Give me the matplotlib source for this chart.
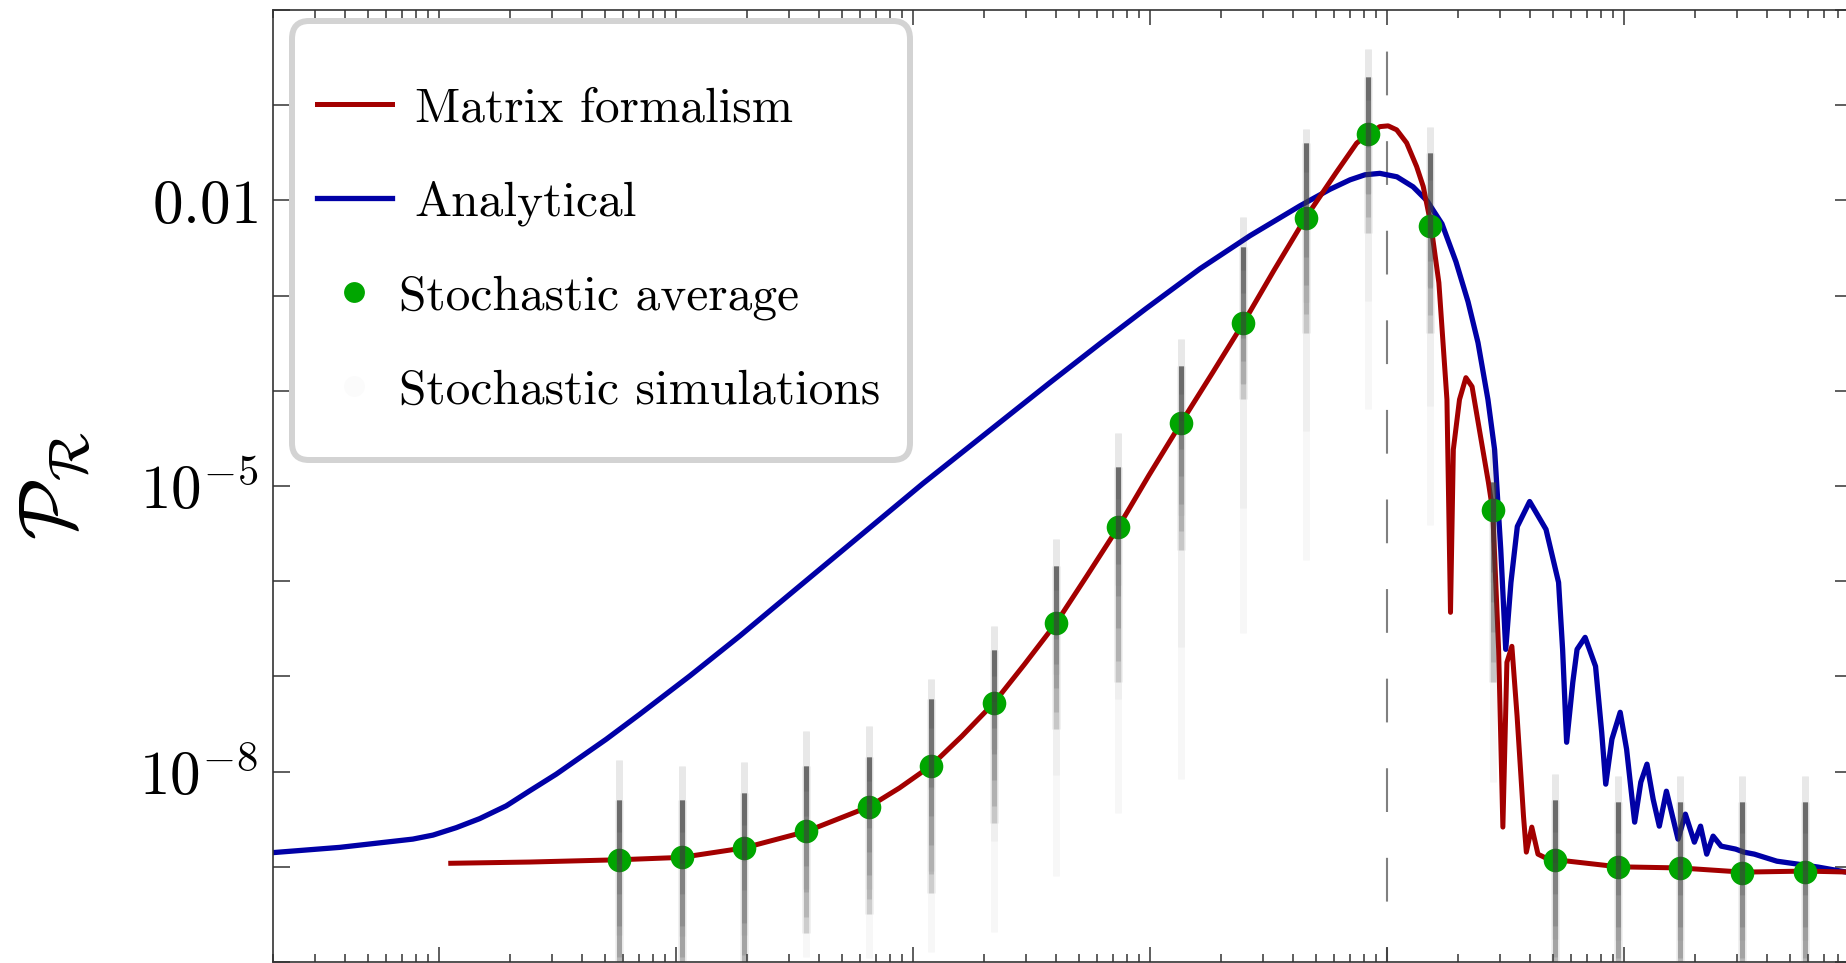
import numpy as np
import matplotlib
matplotlib.use('Agg')
import matplotlib.pyplot as plt
from matplotlib.lines import Line2D
from matplotlib.legend_handler import HandlerLine2D
from matplotlib.ticker import FixedLocator, FixedFormatter, LogLocator, NullLocator, NullFormatter

plt.rcParams['mathtext.fontset'] = 'cm'

# ---------------- data (log10 values) ----------------
# Matrix formalism
log_k_matrix = np.array([-3.950, -3.617, -3.239, -2.976, -2.713, -2.450, -2.186, -2.057, -1.923, -1.794,
                         -1.660, -1.530, -1.397, -1.267, -1.133, -1.004, -0.870, -0.736, -0.607, -0.477,
                         -0.343, -0.215, -0.128, -0.079, -0.030, 0.005, 0.041, 0.083, 0.125, 0.153,
                         0.184, 0.219, 0.253, 0.268, 0.280, 0.306, 0.333, 0.359, 0.392, 0.428,
                         0.446, 0.471, 0.489, 0.506, 0.527, 0.549, 0.576, 0.588, 0.611, 0.637,
                         0.671, 0.709, 0.975, 1.236, 1.502, 1.764, 1.962])
log_P_matrix = np.array([-8.963, -8.950, -8.926, -8.901, -8.802, -8.629, -8.370, -8.172, -7.937, -7.629,
                         -7.283, -6.875, -6.443, -5.948, -5.430, -4.886, -4.342, -3.811, -3.292, -2.736,
                         -2.181, -1.710, -1.399, -1.304, -1.225, -1.217, -1.259, -1.396, -1.644, -1.854,
                         -2.235, -2.865, -4.092, -6.327, -4.617, -4.092, -3.862, -3.956, -4.439, -4.963,
                         -5.257, -6.716, -8.583, -6.852, -6.684, -7.419, -8.468, -8.846, -8.583, -8.867,
                         -8.909, -8.925, -9.000, -9.012, -9.056, -9.045, -9.056])

# Analytical
log_k_analytical = np.array([-4.700, -4.419, -4.110, -4.025, -3.927, -3.828, -3.716, -3.617, -3.505, -3.294,
                             -3.153, -2.942, -2.731, -2.591, -1.958, -1.422, -1.211, -1.017, -0.789, -0.578,
                             -0.367, -0.241, -0.156, -0.093, -0.030, 0.042, 0.110, 0.169, 0.232, 0.291,
                             0.342, 0.384, 0.426, 0.454, 0.480, 0.501, 0.523, 0.550, 0.602,
                             0.671, 0.724, 0.741, 0.758, 0.784, 0.802, 0.836, 0.880, 0.906, 0.923,
                             0.949, 0.984, 1.011, 1.045, 1.071, 1.097, 1.123, 1.149, 1.179, 1.228,
                             1.259, 1.297, 1.323, 1.349, 1.376, 1.410, 1.471, 1.506, 1.550, 1.645,
                             1.733, 1.819, 1.962])
log_P_analytical = np.array([-8.851, -8.796, -8.709, -8.667, -8.589, -8.494, -8.360, -8.202, -8.027, -7.660,
                             -7.398, -6.996, -6.576, -6.285, -4.974, -3.914, -3.505, -3.137, -2.718, -2.371,
                             -2.057, -1.884, -1.784, -1.731, -1.716, -1.752, -1.857, -2.004, -2.246, -2.644,
                             -3.064, -3.494, -4.092, -4.617, -5.666, -6.716, -6.013, -5.425, -5.163,
                             -5.456, -6.013, -6.716, -7.692, -7.062, -6.716, -6.590, -6.894, -7.587, -8.132,
                             -7.660, -7.377, -7.765, -8.531, -8.111, -7.922, -8.290, -8.573, -8.206, -8.709,
                             -8.447, -8.741, -8.573, -8.867, -8.678, -8.783, -8.814, -8.846, -8.867, -8.941,
                             -8.972, -9.003, -9.066])

# Stochastic average
log_k_stoch = np.array([-3.239, -2.976, -2.713, -2.450, -2.186, -1.923, -1.660, -1.397, -1.133, -0.870,
                        -0.607, -0.343, -0.080, 0.183, 0.446, 0.710, 0.973, 1.236, 1.500, 1.763])
log_P_stoch = np.array([-8.925, -8.901, -8.802, -8.629, -8.369, -7.937, -7.282, -6.443, -5.429, -4.342,
                        -3.292, -2.181, -1.303, -2.267, -5.257, -8.925, -9.000, -9.012, -9.062, -9.050])

# Spread of the individual stochastic realisations at each k
log_sim_top = np.array([-7.88, -7.94, -7.90, -7.57, -7.52, -7.03, -6.47, -5.56, -4.44, -3.46,
                        -2.17, -1.25, -0.41, -1.23, -4.61, -8.03, -8.05, -8.05, -8.05, -8.05])
log_sim_core_top = np.array([-8.30, -8.30, -8.22, -7.94, -7.85, -7.24, -6.72, -5.84, -4.80, -3.74,
                             -2.49, -1.40, -0.70, -1.50, -4.96, -8.30, -8.32, -8.32, -8.32, -8.32])
log_sim_core_bottom = np.array([-10.5, -10.5, -10.5, -9.70, -9.50, -9.28, -8.54, -7.55, -7.06, -5.67,
                                -4.09, -3.39, -2.34, -3.39, -7.06, -10.5, -10.5, -10.5, -10.5, -10.5])
log_sim_tail_bottom = np.array([-10.5, -10.5, -10.5, -9.95, -9.96, -9.90, -9.69, -9.10, -8.43, -8.08,
                                -6.54, -5.78, -4.19, -5.41, -8.11, -10.5, -10.5, -10.5, -10.5, -10.5])

k_peak = 1.0

y_tick_values = 10.0 ** np.arange(-10, 1)
y_tick_text = {-8: r'$10^{-8}$', -5: r'$10^{-5}$', -2: r'$0.01$'}

red = '#a30000'
blue = '#0000a6'
green = '#00a600'


class LoweredLine2D(HandlerLine2D):
    # tall legend rows push the handle up; bring it back to the text centre
    def create_artists(self, legend, orig_handle, xdescent, ydescent, width, height, fontsize, trans):
        artists = super().create_artists(legend, orig_handle, xdescent, ydescent, width, height, fontsize, trans)
        for a in artists:
            a.set_ydata(np.asarray(a.get_ydata()) - 0.28 * fontsize)
        return artists


# ---------------- figure ----------------
fig = plt.figure(figsize=(18.46, 9.63), dpi=100)
ax = fig.add_axes([273 / 1846, 1 / 963, 1579 / 1846, 952 / 963])
ax.set_xscale('log')
ax.set_yscale('log')

ax.plot(10 ** log_k_matrix, 10 ** log_P_matrix, color=red, lw=3.6, zorder=3)
ax.plot(10 ** log_k_analytical, 10 ** log_P_analytical, color=blue, lw=3.8, zorder=2)
ax.axvline(k_peak, color='#808080', lw=1.5, ls=(14, (21, 22)), zorder=1)
ax.plot(10 ** log_k_stoch, 10 ** log_P_stoch, ls='', marker='o', ms=17, color=green, mec='none', zorder=4)

# clouds of realisations: faint tail, then a core that fades downwards
k_sim = 10 ** log_k_stoch
for frac in (0.4, 0.7, 1.0):
    bottom = log_sim_top + frac * (log_sim_tail_bottom - log_sim_top)
    ax.vlines(k_sim, 10 ** log_sim_top, 10 ** bottom, color='0.3', alpha=0.045, lw=5, zorder=5)
ax.vlines(k_sim, 10 ** log_sim_core_top, 10 ** log_sim_core_bottom, color='0.3', alpha=0.08, lw=6.5, zorder=5)
for frac in (0.15, 0.3, 0.45, 0.6, 0.75, 0.9, 1.0):
    bottom = log_sim_core_top + frac * (log_sim_core_bottom - log_sim_core_top)
    ax.vlines(k_sim, 10 ** log_sim_core_top, 10 ** bottom, color='0.25', alpha=0.16, lw=3.6, zorder=5)

ax.set_xlim(10 ** -4.700, 10 ** 1.962)
ax.set_ylim(1e-10, 1)

ax.xaxis.set_major_locator(LogLocator(base=10, numticks=20))
ax.xaxis.set_minor_locator(LogLocator(base=10, subs=np.arange(2, 10), numticks=20))
ax.xaxis.set_major_formatter(NullFormatter())
ax.xaxis.set_minor_formatter(NullFormatter())
ax.yaxis.set_major_locator(FixedLocator(y_tick_values))
ax.yaxis.set_major_formatter(FixedFormatter([y_tick_text.get(int(round(np.log10(v))), '') for v in y_tick_values]))
ax.yaxis.set_minor_locator(NullLocator())

ax.tick_params(which='both', direction='in', top=True, right=True, width=1.1, color='0.2')
ax.tick_params(axis='x', which='major', length=10.8)
ax.tick_params(axis='x', which='minor', length=5.8)
ax.tick_params(axis='y', which='major', length=12, labelsize=44, pad=11)
for s in ax.spines.values():
    s.set_linewidth(1.2)
    s.set_color('0.2')

ax.set_ylabel(r'$\mathcal{P}_\mathcal{R}$', fontsize=58)
ax.yaxis.set_label_coords(-0.1146, 0.5)

handles = [Line2D([], [], color=red, lw=3.6),
           Line2D([], [], color=blue, lw=3.8),
           Line2D([], [], ls='', marker='o', ms=15, color=green, mec='none'),
           Line2D([], [], ls='', marker='o', ms=15, color='0.5', alpha=0.03, mec='none')]
labels = ['Matrix formalism', 'Analytical', 'Stochastic average', 'Stochastic simulations']
leg = ax.legend(handles, labels, loc='upper left', bbox_to_anchor=(0.012, 0.0, 0.3914, 0.988),
                mode='expand', borderaxespad=0, title=' ', title_fontsize=9,
                handler_map={Line2D: LoweredLine2D()},
                prop={'family': 'cmr10', 'size': 35.6}, handlelength=1.52, handletextpad=0.46,
                handleheight=2.55, labelspacing=0, borderpad=0.5, fancybox=True, framealpha=1,
                edgecolor='#d3d3d3')
leg.get_frame().set_linewidth(4.3)
leg.get_frame().set_boxstyle('round', pad=0, rounding_size=0.35)
leg.set_zorder(10)

# marker entries sit closer to their text than the line entries
try:
    rows = [r for col in leg._legend_handle_box.get_children() for r in col.get_children()]
    for r in rows[2:]:
        r.sep = 5.0
except AttributeError:
    pass

fig.savefig('out.png', dpi=100)
